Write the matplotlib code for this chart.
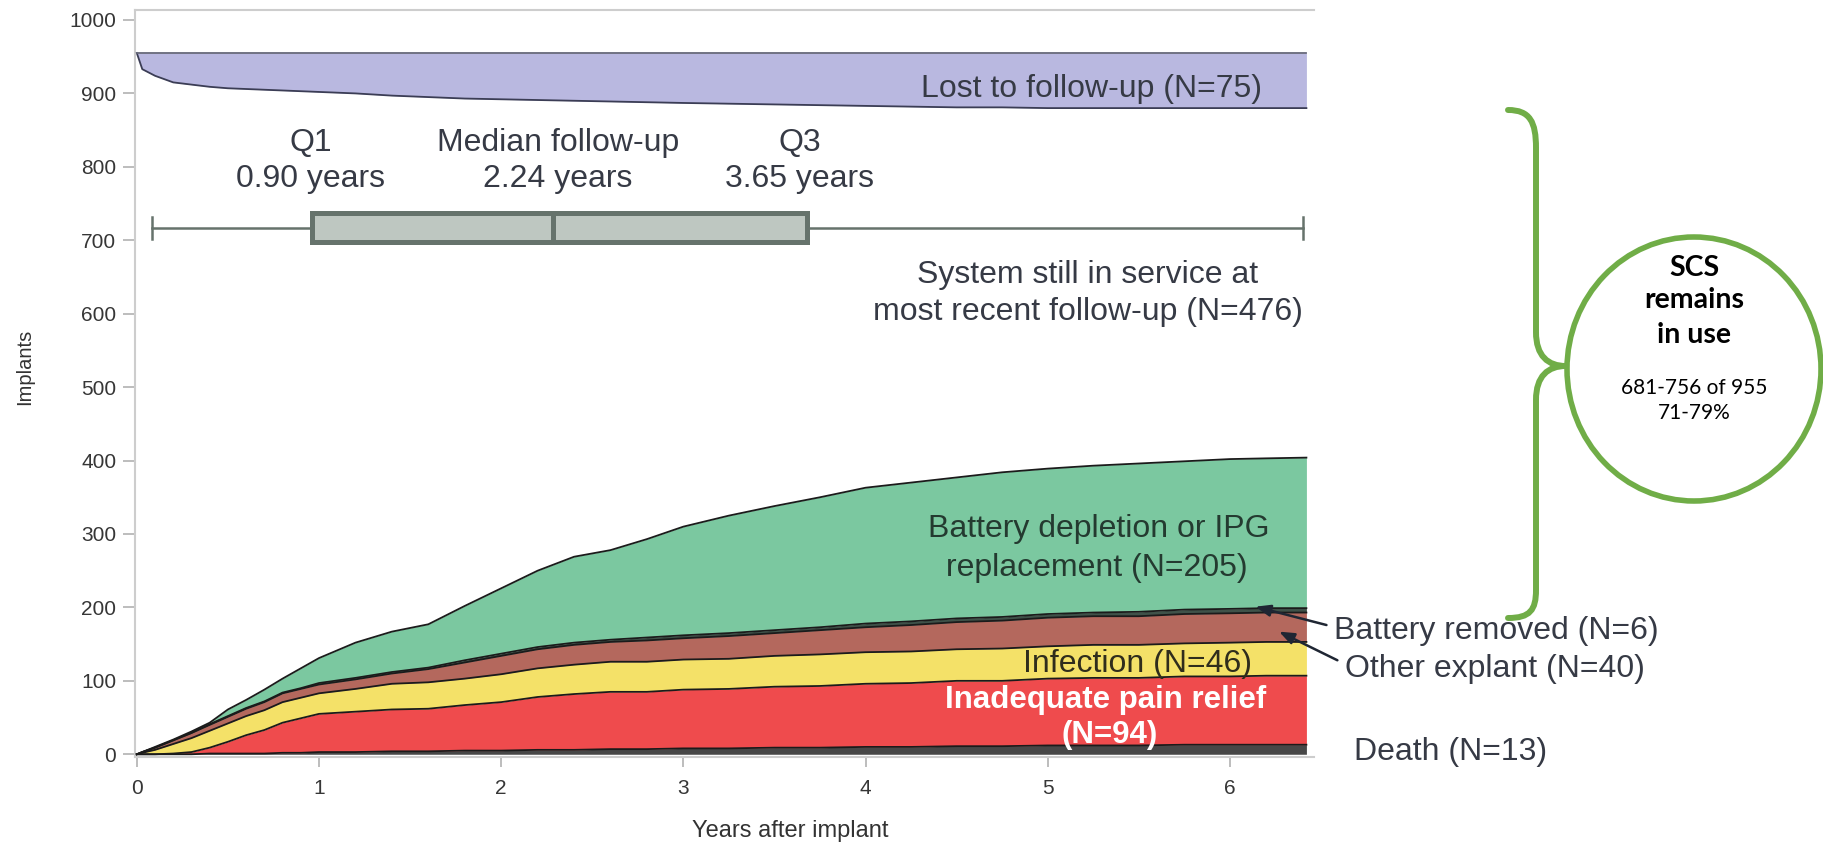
import numpy as np
import matplotlib
matplotlib.use('Agg')
import matplotlib.pyplot as plt
from matplotlib.patches import Ellipse, PathPatch
from matplotlib.path import Path

plt.rcParams['font.family'] = ['Liberation Sans', 'DejaVu Sans']

# ---------------- data ----------------
years = [0, 0.03, 0.1, 0.2, 0.3, 0.4, 0.5, 0.6, 0.7, 0.8, 0.9, 1.0, 1.2, 1.4, 1.6, 1.8,
         2.0, 2.2, 2.4, 2.6, 2.8, 3.0, 3.25, 3.5, 3.75, 4.0, 4.25, 4.5, 4.75,
         5.0, 5.25, 5.5, 5.75, 6.0, 6.2, 6.42]
death = [0, 0, 0, 0, 0, 1, 1, 1, 1, 2, 2, 3, 3, 4, 4, 5, 5, 6, 6, 7, 7, 8, 8, 9, 9,
         10, 10, 11, 11, 12, 12, 12, 13, 13, 13, 13]
pain_relief = [0, 0, 0, 1, 3, 8, 16, 25, 32, 41, 47, 52, 55, 57, 58, 62, 66, 72, 76,
               78, 78, 80, 81, 83, 84, 86, 87, 89, 89, 91, 92, 92, 93, 93, 94, 94]
infection = [0, 2, 6, 13, 19, 23, 25, 26, 27, 28, 28, 28, 31, 35, 36, 36, 38, 39, 40,
             41, 41, 41, 41, 42, 43, 43, 43, 43, 44, 44, 45, 45, 45, 46, 46, 46]
other_explant = [0, 1, 3, 5, 7, 8, 9, 10, 11, 12, 12, 12, 13, 14, 18, 22, 25, 26, 27,
                 27, 29, 29, 31, 31, 33, 34, 36, 37, 38, 39, 39, 39, 40, 40, 40, 40]
battery_removed = [0, 0, 0, 0, 0, 1, 1, 1, 1, 1, 1, 2, 2, 2, 2, 3, 3, 3, 3, 3, 4, 4,
                   4, 4, 4, 5, 5, 5, 5, 5, 5, 6, 6, 6, 6, 6]
battery_depletion = [0, 0, 1, 1, 2, 2, 9, 11, 16, 19, 27, 34, 48, 55, 59, 74, 89, 104,
                     117, 122, 134, 148, 160, 169, 177, 185, 189, 192, 197, 198,
                     200, 202, 202, 204, 204, 205]
lost_to_follow_up = [0, 22, 31, 40, 43, 46, 48, 49, 50, 51, 52, 53, 55, 58, 60, 62, 63,
                     64, 65, 66, 67, 68, 69, 70, 71, 72, 73, 74, 74, 75, 75, 75, 75,
                     75, 75, 75]
total_implants = 955

# follow-up box (as drawn)
follow_min, follow_q1, follow_med, follow_q3, follow_max = 0.083, 0.96, 2.285, 3.68, 6.40
follow_box_y = 717

layer_colors = ['#474747', '#ef4b4d', '#f4e168', '#b4685d', '#3f5249', '#7bc8a0']

# ---------------- figure ----------------
fig = plt.figure(figsize=(18.24, 8.43), dpi=100)
ax = fig.add_axes([0.07401, 0.10178, 0.64622, 0.88671])

x = np.array(years, dtype=float)
layers = np.array([death, pain_relief, infection, other_explant,
                   battery_removed, battery_depletion], dtype=float)
cum = np.cumsum(layers, axis=0)
lower = np.zeros_like(x)
for i, c in enumerate(layer_colors):
    ax.fill_between(x, lower, cum[i], color=c, lw=0, zorder=2)
    lower = cum[i]
for i in range(len(layers)):
    ax.plot(x, cum[i], color='#1b1b1b', lw=1.3, zorder=3)

# lost to follow-up band
lost_lower = total_implants - np.array(lost_to_follow_up, dtype=float)
ax.fill_between(x, lost_lower, total_implants, color='#b9b8e0', lw=0, zorder=2)
ax.plot(x, lost_lower, color='#3b3d55', lw=1.3, zorder=3)
ax.plot([x[0], x[-1]], [total_implants, total_implants], color='#66687a', lw=1.3, zorder=3)

# follow-up box plot
stats = [dict(med=follow_med, q1=follow_q1, q3=follow_q3,
              whislo=follow_min, whishi=follow_max, fliers=[])]
bc = '#66736c'
ax.bxp(stats, positions=[follow_box_y], widths=39, orientation='horizontal',
       patch_artist=True, showfliers=False, manage_ticks=False, capwidths=30,
       boxprops=dict(facecolor='#bec7c1', edgecolor=bc, linewidth=3.6),
       medianprops=dict(color=bc, linewidth=3.6),
       whiskerprops=dict(color=bc, linewidth=1.8),
       capprops=dict(color=bc, linewidth=1.8))

# ---------------- axes styling ----------------
ax.set_xlim(-0.01, 6.46)
ax.set_ylim(-4, 1014)
ax.set_xticks(range(0, 7))
ax.set_yticks(range(0, 1001, 100))
for s in ['left', 'top', 'bottom']:
    ax.spines[s].set_color('#cdcdcd')
    ax.spines[s].set_linewidth(1.5)
ax.spines['right'].set_visible(False)
ax.tick_params(axis='both', colors='#b8b8b8', labelcolor='#363636',
               labelsize=15, width=1.3)
ax.tick_params(axis='y', length=8.5, pad=5)
ax.tick_params(axis='x', length=7, pad=9)

fig.text(790 / 1824, 6.5 / 843, 'Years after implant', ha='center', va='baseline',
         fontsize=17, color='#333333')
fig.text(25 / 1824, 1 - 367 / 843, 'Implants', rotation=90, ha='center',
         va='center', fontsize=14.5, color='#333333')

# ---------------- annotations ----------------
tc = '#363a45'
fs = 23
ax.text(6.175, 895.5, 'Lost to follow-up (N=75)', ha='right', va='baseline', fontsize=fs, color=tc, zorder=5)
ax.text(0.955, 822, 'Q1', ha='center', va='baseline', fontsize=fs, color=tc)
ax.text(0.955, 773, '0.90 years', ha='center', va='baseline', fontsize=fs, color=tc)
ax.text(2.31, 822, 'Median follow-up', ha='center', va='baseline', fontsize=fs, color=tc)
ax.text(2.31, 773, '2.24 years', ha='center', va='baseline', fontsize=fs, color=tc)
ax.text(3.64, 822, 'Q3', ha='center', va='baseline', fontsize=fs, color=tc)
ax.text(3.64, 773, '3.65 years', ha='center', va='baseline', fontsize=fs, color=tc)
ax.text(5.22, 641.5, 'System still in service at', ha='center', va='baseline', fontsize=fs, color=tc)
ax.text(5.22, 591.4, 'most recent follow-up (N=476)', ha='center', va='baseline', fontsize=fs, color=tc)
ax.text(5.28, 295.5, 'Battery depletion or IPG', ha='center', va='baseline', fontsize=fs, color='#243a30', zorder=5)
ax.text(5.27, 243, 'replacement (N=205)', ha='center', va='baseline', fontsize=fs, color='#243a30', zorder=5)
ax.text(5.494, 112, 'Infection (N=46)', ha='center', va='baseline', fontsize=fs, color='#2f2d1c', zorder=5)
ax.text(5.32, 63, 'Inadequate pain relief', ha='center', va='baseline', fontsize=22.5,
        color='white', fontweight='bold', zorder=5)
ax.text(5.34, 16, '(N=94)', ha='center', va='baseline', fontsize=22.5,
        color='white', fontweight='bold', zorder=5)
ax.text(6.57, 157, 'Battery removed (N=6)', ha='left', va='baseline', fontsize=fs, color=tc)
ax.text(6.63, 105, 'Other explant (N=40)', ha='left', va='baseline', fontsize=fs, color=tc)
ax.text(6.68, -8, 'Death (N=13)', ha='left', va='baseline', fontsize=fs, color=tc)

arrow = dict(arrowstyle='-|>,head_length=0.9,head_width=0.35', color='#1f2633', lw=1.8,
             shrinkA=0, shrinkB=0)
ax.annotate('', xy=(6.14, 201), xytext=(6.53, 176), arrowprops=arrow,
            annotation_clip=False, zorder=6)
ax.annotate('', xy=(6.27, 167), xytext=(6.59, 128), arrowprops=arrow,
            annotation_clip=False, zorder=6)

# ---------------- brace and circle (figure pixel space) ----------------
ov = fig.add_axes([0, 0, 1, 1])
ov.set_xlim(0, 1824)
ov.set_ylim(843, 0)
ov.axis('off')
ov.patch.set_alpha(0)
green = '#70ad47'
bx, tipx, ex = 1536, 1566, 1508
verts = [(ex, 110), (1530, 110), (bx, 122), (bx, 148),
         (bx, 332),
         (bx, 356), (1548, 366), (tipx, 366),
         (1548, 366), (bx, 376), (bx, 400),
         (bx, 590),
         (bx, 610), (1530, 618), (ex, 618)]
codes = [Path.MOVETO, Path.CURVE4, Path.CURVE4, Path.CURVE4,
         Path.LINETO,
         Path.CURVE4, Path.CURVE4, Path.CURVE4,
         Path.CURVE4, Path.CURVE4, Path.CURVE4,
         Path.LINETO,
         Path.CURVE4, Path.CURVE4, Path.CURVE4]
ov.add_patch(PathPatch(Path(verts, codes), fill=False, edgecolor=green, lw=4.3,
                       capstyle='round', joinstyle='round'))
ov.add_patch(Ellipse((1694, 369), 254, 264, fill=False, edgecolor=green, lw=4))

cf = ['Lato', 'DejaVu Sans']
ov.text(1694, 268, 'SCS', ha='center', va='center', fontsize=20.5, fontweight='bold', family=cf, color='black')
ov.text(1694, 300, 'remains', ha='center', va='center', fontsize=20.5, fontweight='bold', family=cf, color='black')
ov.text(1694, 335, 'in use', ha='center', va='center', fontsize=20.5, fontweight='bold', family=cf, color='black')
ov.text(1694, 388, '681-756 of 955', ha='center', va='center', fontsize=15, family=cf, color='black')
ov.text(1694, 413, '71-79%', ha='center', va='center', fontsize=15, family=cf, color='black')

fig.savefig('out.png', dpi=100)
